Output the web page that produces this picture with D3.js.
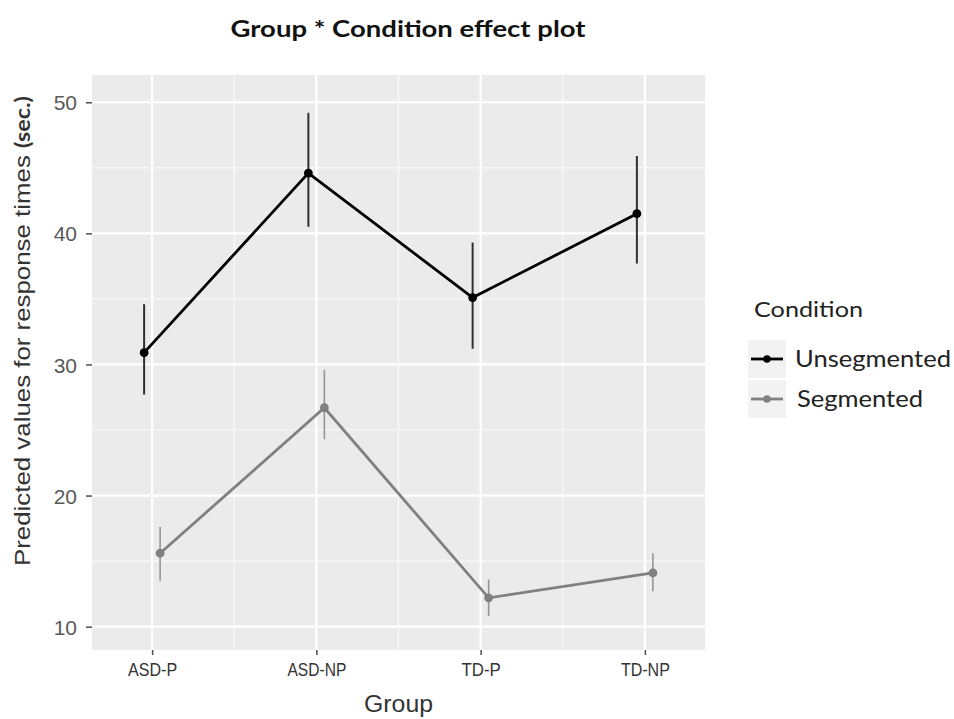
<!DOCTYPE html>
<html>
<head>
<meta charset="utf-8">
<script src="https://cdn.jsdelivr.net/npm/d3@7"></script>
<style>
  body { margin: 0; background: #fff; }
  svg { display: block; }
</style>
</head>
<body>
<div id="chart"></div>
<script>
// data
var groups = ["ASD-P", "ASD-NP", "TD-P", "TD-NP"];
var conditions = ["Unsegmented", "Segmented"];
var unsegFit = [30.9, 44.6, 35.1, 41.5];
var unsegLow = [27.7, 40.5, 31.2, 37.7];
var unsegHigh = [34.6, 49.2, 39.3, 45.9];
var segFit = [15.6, 26.7, 12.2, 14.1];
var segLow = [13.5, 24.3, 10.8, 12.7];
var segHigh = [17.6, 29.6, 13.6, 15.6];
var yTicks = [10, 20, 30, 40, 50];

var series = [
    {key: "Unsegmented", colour: "#000000", fit: unsegFit, low: unsegLow, high: unsegHigh},
    {key: "Segmented", colour: "#808080", fit: segFit, low: segLow, high: segHigh}
];

var svgWidth = 954, svgHeight = 719;
var margin = {top: 75, right: 249, bottom: 69, left: 92};
var width = svgWidth - margin.left - margin.right;
var height = svgHeight - margin.top - margin.bottom;

var calibri = "Lato, 'Open Sans', sans-serif";
var arial = "'Liberation Sans', Arial, sans-serif";

var svg = d3.select("#chart").append("svg")
    .attr("width", svgWidth).attr("height", svgHeight);

var g = svg.append("g")
    .attr("transform", "translate(" + margin.left + " " + margin.top + ")");

// scales
var x = d3.scalePoint().domain(groups).range([0, width]).padding(0.366);
var dodge = d3.scalePoint().domain(conditions).range([-8, 8]);
var y = d3.scaleLinear().domain([8.22, 52.08]).range([height, 0]);

// panel
g.append("rect")
    .attr("width", width).attr("height", height)
    .attr("fill", "#ebebeb");

// minor grid
var minorY = d3.range(15, 50, 10);
g.selectAll(".minor-y").data(minorY).enter().append("line")
    .attr("x1", 0).attr("x2", width)
    .attr("y1", function(d) { return y(d); }).attr("y2", function(d) { return y(d); })
    .attr("stroke", "#fafafa").attr("stroke-width", 1.2);
var minorX = groups.slice(1).map(function(d, i) { return (x(groups[i]) + x(d)) / 2; });
g.selectAll(".minor-x").data(minorX).enter().append("line")
    .attr("y1", 0).attr("y2", height)
    .attr("x1", function(d) { return d; }).attr("x2", function(d) { return d; })
    .attr("stroke", "#fafafa").attr("stroke-width", 1.2);

// major grid
g.selectAll(".major-y").data(yTicks).enter().append("line")
    .attr("x1", 0).attr("x2", width)
    .attr("y1", function(d) { return y(d); }).attr("y2", function(d) { return y(d); })
    .attr("stroke", "#ffffff").attr("stroke-width", 2.2);
g.selectAll(".major-x").data(groups).enter().append("line")
    .attr("y1", 0).attr("y2", height)
    .attr("x1", function(d) { return x(d); }).attr("x2", function(d) { return x(d); })
    .attr("stroke", "#ffffff").attr("stroke-width", 2.2);

// axes
var xAxis = g.append("g")
    .attr("transform", "translate(0 " + height + ")")
    .call(d3.axisBottom(x).tickSize(5).tickPadding(8));
var yAxis = g.append("g")
    .call(d3.axisLeft(y).tickValues(yTicks).tickSize(6).tickPadding(9));
[xAxis, yAxis].forEach(function(ax) {
    ax.select(".domain").remove();
    ax.selectAll("line").attr("stroke", "#4d4d4d").attr("stroke-width", 1.5);
    ax.selectAll("text").style("font-family", arial);
});
xAxis.selectAll("text")
    .style("font-size", "18px")
    .attr("fill", "#333")
    .attr("textLength", function(d) { return d.length * 9.8; })
    .attr("lengthAdjust", "spacingAndGlyphs");
yAxis.selectAll("text")
    .style("font-size", "21px")
    .attr("fill", "#595959")
    .attr("dy", "0.36em");

// lines, error bars, points
var line = d3.line()
    .x(function(d) { return d.x; })
    .y(function(d) { return y(d.v); });

series.forEach(function(s) {
    var pts = groups.map(function(grp, i) {
        return {x: x(grp) + dodge(s.key), v: s.fit[i], lo: s.low[i], hi: s.high[i]};
    });
    var sg = g.append("g").attr("class", "series");
    sg.selectAll(".err").data(pts).enter().append("line")
        .attr("x1", function(d) { return d.x; }).attr("x2", function(d) { return d.x; })
        .attr("y1", function(d) { return y(d.lo); }).attr("y2", function(d) { return y(d.hi); })
        .attr("stroke", s.colour).attr("stroke-width", s.key == "Unsegmented" ? 2 : 1.6)
        .attr("stroke-opacity", 0.8);
    sg.append("path")
        .datum(pts)
        .attr("d", line)
        .attr("fill", "none")
        .attr("stroke", s.colour)
        .attr("stroke-width", 2.8);
    sg.selectAll("circle").data(pts).enter().append("circle")
        .attr("cx", function(d) { return d.x; })
        .attr("cy", function(d) { return y(d.v); })
        .attr("r", 4.4)
        .attr("fill", s.colour);
});

// title
svg.append("text")
    .attr("x", 408).attr("y", 37)
    .attr("text-anchor", "middle")
    .style("font-family", calibri)
    .style("font-weight", "bold")
    .style("font-size", "22px")
    .attr("fill", "#111")
    .attr("textLength", 355)
    .attr("lengthAdjust", "spacingAndGlyphs")
    .text("Group * Condition effect plot");

// axis titles
svg.append("text")
    .attr("x", margin.left + width / 2).attr("y", 712)
    .attr("text-anchor", "middle")
    .style("font-family", arial)
    .style("font-size", "23px")
    .attr("fill", "#333")
    .attr("textLength", 69)
    .attr("lengthAdjust", "spacingAndGlyphs")
    .text("Group");

var yTitle = svg.append("text")
    .attr("transform", "translate(30 331) rotate(-90)")
    .attr("text-anchor", "middle")
    .style("font-family", arial)
    .style("font-size", "22px")
    .attr("fill", "#333");
yTitle.append("tspan")
    .attr("textLength", 418)
    .attr("lengthAdjust", "spacingAndGlyphs")
    .text("Predicted values for response times ");
yTitle.append("tspan")
    .style("font-family", calibri)
    .style("font-weight", "bold")
    .style("font-size", "20px")
    .attr("textLength", 52)
    .attr("lengthAdjust", "spacingAndGlyphs")
    .text("(sec.)");

// legend
var legend = svg.append("g")
    .attr("transform", "translate(748 296)");
legend.append("text")
    .attr("x", 6).attr("y", 21)
    .style("font-family", calibri)
    .style("font-size", "21px")
    .attr("fill", "#222")
    .attr("textLength", 109)
    .attr("lengthAdjust", "spacingAndGlyphs")
    .text("Condition");

var keys = legend.selectAll(".key").data(series).enter().append("g")
    .attr("transform", function(d, i) { return "translate(0 " + (44 + i * 40) + ")"; });
keys.append("rect")
    .attr("width", 38).attr("height", 38)
    .attr("fill", "#f2f2f2");
keys.append("line")
    .attr("x1", 3).attr("x2", 35).attr("y1", 19).attr("y2", 19)
    .attr("stroke", function(d) { return d.colour; })
    .attr("stroke-width", 2.8);
keys.append("circle")
    .attr("cx", 19).attr("cy", 19).attr("r", 3.8)
    .attr("fill", function(d) { return d.colour; });
keys.append("text")
    .attr("x", function(d, i) { return i == 0 ? 47 : 49; })
    .attr("y", 19).attr("dy", "0.35em")
    .style("font-family", calibri)
    .style("font-size", "23px")
    .attr("fill", "#222")
    .attr("textLength", function(d, i) { return i == 0 ? 156 : 126; })
    .attr("lengthAdjust", "spacingAndGlyphs")
    .text(function(d) { return d.key; });
</script>
</body>
</html>
